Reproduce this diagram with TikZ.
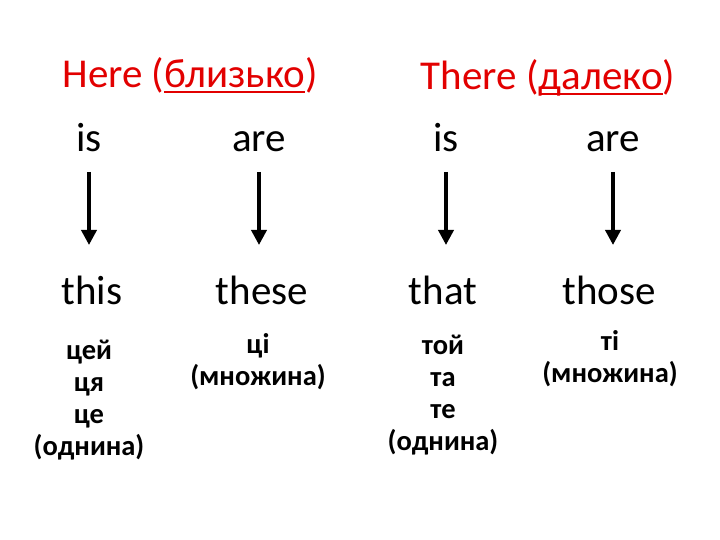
\documentclass[tikz,border=0pt]{standalone}
\usepackage{fontspec}
\setmainfont{Carlito}
\usetikzlibrary{arrows.meta}
\definecolor{headred}{RGB}{226,0,0}
\newcommand{\ulword}[1]{\setbox0\hbox{#1}\rlap{\rule[-5.5pt]{\wd0}{2.6pt}}\box0}
\tikzset{
    heading/.style = {anchor=base, text=headred,
        font=\fontsize{41}{49}\selectfont},
    word/.style = {anchor=base, font=\fontsize{41}{49}\selectfont},
    meaning/.style = {anchor=base, align=center,
        font=\bfseries\fontsize{28.5}{32}\selectfont},
    downarrow/.style = {draw, line width=3.6pt,
        -{Triangle[width=15pt,length=15pt]},
        shorten <=20pt, shorten >=60pt}
}

\begin{document}
\begin{tikzpicture}[x=1pt,y=1pt]
        \useasboundingbox (0,0) rectangle (720,540);
        % headings
        \node [heading] (here)  at (190,452) {Here (\ulword{близько})};
        \node [heading] (there) at (548,450) {There (\ulword{далеко})};
        % is / are
        \node [word] (is1)  at (89,388)  {is};
        \node [word] (are1) at (259,388) {are};
        \node [word] (is2)  at (446,388) {is};
        \node [word] (are2) at (613,388) {are};
        % this / these / that / those
        \node [word] (this)  at (92,235)  {this};
        \node [word] (these) at (262,235) {these};
        \node [word] (that)  at (443,235) {that};
        \node [word] (those) at (609,235) {those};
        \draw [downarrow] (is1.base) -- (is1.base |- this.base);
        \draw [downarrow] (are1.base) -- (are1.base |- these.base);
        \draw [downarrow] (is2.base) -- (is2.base |- that.base);
        \draw [downarrow] (are2.base) -- (are2.base |- those.base);
        % translations (base = last line)
        \node [meaning] (thisua)  at (89,84)   {цей\\ця\\це\\(однина)};
        \node [meaning] (theseua) at (258,154) {ці\\(множина)};
        \node [meaning] (thatua)  at (443,89)  {той\\та\\те\\(однина)};
        \node [meaning] (thoseua) at (610,157) {ті\\(множина)};
    \end{tikzpicture}
\end{document}
